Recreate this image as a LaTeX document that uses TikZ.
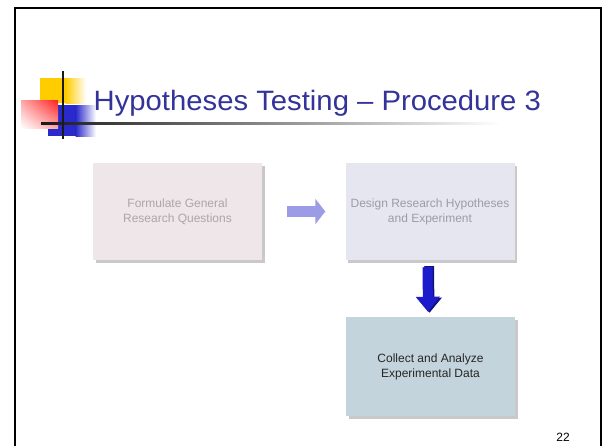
\documentclass[tikz,border=0pt]{standalone}
\usepackage{fontspec}
\setmainfont{Liberation Sans}
\usetikzlibrary{arrows.meta,shadows,shadings}
\definecolor{titleblue}{HTML}{333399}
\definecolor{sqyellow}{HTML}{FFCC00}
\definecolor{sqred}{HTML}{FF2020}
\definecolor{sqblue}{HTML}{2A2ACC}
\definecolor{boxone}{HTML}{EFE6EA}
\definecolor{boxtwo}{HTML}{E6E6F0}
\definecolor{boxthree}{HTML}{C4D4DC}
\definecolor{txtone}{HTML}{ABA6A8}
\definecolor{txttwo}{HTML}{9E9AAA}
\definecolor{arrowlight}{HTML}{9C9CE6}
\definecolor{arrowdark}{HTML}{1C1CCC}
\tikzset{
  stepbox/.style={rectangle, minimum width=169pt, minimum height=97pt, inner sep=0pt,
    align=center, font=\fontsize{12}{15}\selectfont,
    drop shadow={shadow xshift=2.5pt, shadow yshift=-2.5pt, opacity=0.35, fill=black!60}},
  bigarrow/.style={line width=11pt, -{Triangle[length=10pt,width=25pt]}},
}
\begin{document}
\begin{tikzpicture}[x=1pt,y=-1pt]
\useasboundingbox (0,0) rectangle (603,445);
\clip (0,0) rectangle (603,445);
\fill[white] (0,0) rectangle (603,445);
% slide frame
\draw[line width=2.2pt] (15,460) -- (15,8) -- (601,8) -- (601,460);
% decorative squares
\fill[sqyellow] (40,78) rectangle (66,103);
\shade[left color=sqyellow, right color=white] (65.5,78) rectangle (86,103);
\fill[sqblue] (48,105) rectangle (76,136);
\shade[left color=sqblue, right color=white] (75.5,105) rectangle (96,136);
\shade[upper right=sqred, upper left=sqred!40, lower right=sqred!40, lower left=white] (21,100) rectangle (58,128);
% rule lines
\shade[left color=black!90, right color=white] (41,122) rectangle (500,124.2);
\draw[line width=2.2pt, black!90] (63,71) -- (63,139);
% title
\node[anchor=base west, inner sep=0pt, text=titleblue] (title) at (93.5,110)
  {\scalebox{1.045}[1]{\fontsize{28}{32}\selectfont Hypotheses Testing – Procedure 3}};
% boxes
\node[stepbox, fill=boxone, text=txtone] (b1) at (177.5,211.5) {Formulate General\\Research Questions};
\node[stepbox, fill=boxtwo, text=txttwo] (b2) at (430,211.5) {Design Research Hypotheses\\and Experiment};
\node[stepbox, fill=boxthree, text=black!85, minimum height=99pt] (b3) at (430.5,366.5) {Collect and Analyze\\Experimental Data};
% connectors
\draw[bigarrow, arrowlight] ([xshift=25pt]b1.east) -- ([xshift=-20pt]b2.west);
\draw[bigarrow, arrowdark!60!black, -{Triangle[length=15pt,width=24pt]}, line width=10pt]
  ([xshift=-1pt,yshift=-6pt]b2.south) -- ([xshift=-1pt,yshift=4pt]b3.north);
\draw[bigarrow, arrowdark, -{Triangle[length=15pt,width=23pt]}, line width=10pt]
  ([xshift=-2.5pt,yshift=-7pt]b2.south) -- ([xshift=-2.5pt,yshift=5pt]b3.north);
% page number
\node[anchor=base east, inner sep=0pt, font=\fontsize{12}{14}\selectfont] (pageno) at (570,441) {22};
\end{tikzpicture}
\end{document}
